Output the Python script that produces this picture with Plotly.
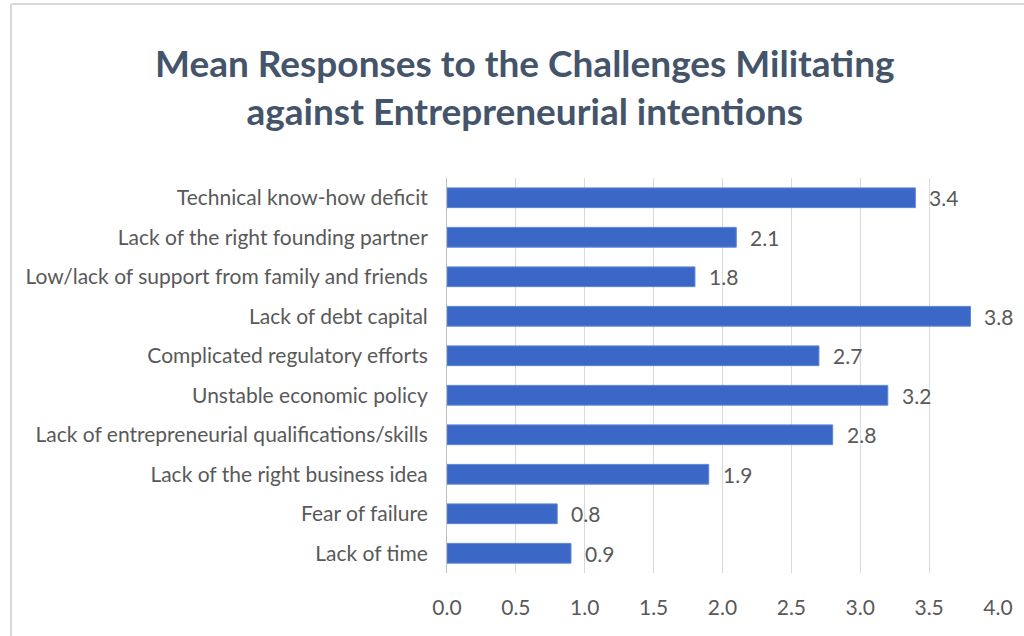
import plotly.graph_objects as go

categories = [
    "Technical know-how deficit",
    "Lack of the right founding partner",
    "Low/lack of support from family and friends",
    "Lack of debt capital",
    "Complicated regulatory efforts",
    "Unstable economic policy",
    "Lack of entrepreneurial qualifications/skills",
    "Lack of the right business idea",
    "Fear of failure",
    "Lack of time",
]
values = [3.4, 2.1, 1.8, 3.8, 2.7, 3.2, 2.8, 1.9, 0.8, 0.9]
tick_vals = [0, 0.5, 1, 1.5, 2, 2.5, 3, 3.5, 4]

W, H = 1024, 636
L, R, T, B = 447, 26, 178, 63
pw, ph = W - L - R, H - T - B

fig = go.Figure(go.Bar(
    x=values, y=categories, orientation="h",
    marker=dict(color="#3B68C6", line=dict(color="#5A86D6", width=1)),
))

for v, c in zip(values, categories):
    fig.add_annotation(
        x=v, y=c, xref="x", yref="y", text=f"{v:.1f}", showarrow=False,
        xanchor="left", xshift=12,
        font=dict(family="Lato", size=21, color="#595959"),
    )

fig.add_annotation(
    text="<b>Mean Responses to the Challenges Militating<br>against Entrepreneurial intentions</b>",
    xref="paper", yref="paper", x=(525 - L) / pw, y=(H - B - 86) / ph,
    xanchor="center", yanchor="middle", showarrow=False, align="center",
    font=dict(family="Lato", size=37, color="#44546A"),
)

fig.update_layout(
    width=W, height=H,
    margin=dict(l=L, r=R, t=T, b=B),
    paper_bgcolor="white", plot_bgcolor="white",
    bargap=0.5,
    showlegend=False,
    xaxis=dict(
        range=[0, 4.0], tickvals=tick_vals, ticktext=[f"{v:.1f}" for v in tick_vals],
        showgrid=True, gridcolor="#D9D9D9", gridwidth=1, zeroline=False,
        tickfont=dict(family="Lato", size=21, color="#595959"),
        ticks="", ticklen=0, showline=False, ticklabelstandoff=20,
    ),
    yaxis=dict(
        autorange="reversed", showline=True, linecolor="#BFBFBF", linewidth=1,
        tickfont=dict(family="Lato", size=21, color="#595959"),
        ticks="", ticklabelstandoff=14, showgrid=False,
    ),
    shapes=[
        dict(type="line", xref="paper", yref="paper",
             x0=(11 - L) / pw, x1=(W - L) / pw, y0=(H - B - 4) / ph, y1=(H - B - 4) / ph,
             line=dict(color="#D9D9D9", width=2)),
        dict(type="line", xref="paper", yref="paper",
             x0=(11 - L) / pw, x1=(11 - L) / pw, y0=(H - B - 4) / ph, y1=-B / ph,
             line=dict(color="#D9D9D9", width=2)),
    ],
)

fig.write_html("out.html")
